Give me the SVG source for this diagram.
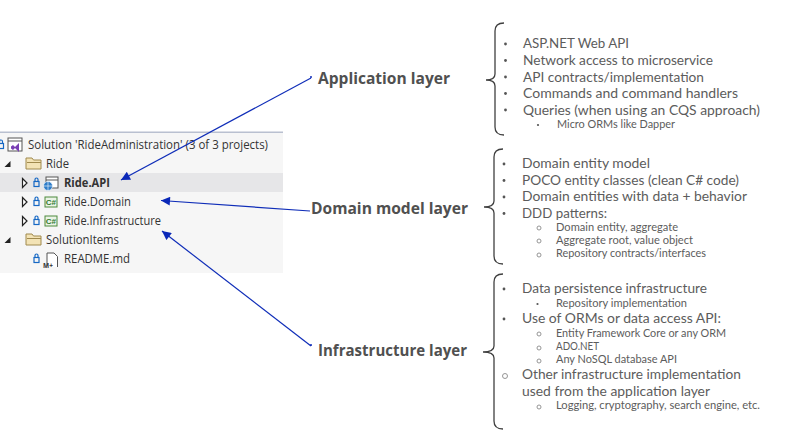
<svg xmlns="http://www.w3.org/2000/svg" width="806" height="437" viewBox="0 0 806 437">
<style>
text{font-family:"Open Sans","Noto Sans","Liberation Sans",sans-serif}
.t{font-size:12px;fill:#333}
.h{font-size:16px;font-weight:700;fill:#505050}
.l{font-family:Lato,"Open Sans",sans-serif;font-size:13.7px;fill:#5c5c5c}
.s{font-family:Lato,"Open Sans",sans-serif;font-size:10.8px;fill:#5c5c5c}
.d{fill:#555}
.o{fill:none;stroke:#8a8a8a;stroke-width:.9}
.br{fill:none;stroke:#404040;stroke-width:1.3}
.cn{fill:none;stroke:#0f2db8;stroke-width:1.2}
.folder{fill:#f3e3b5;stroke:#a08a4e;stroke-width:1}
.lock{fill:none;stroke:#1668c4;stroke-width:1.2}
.exp{fill:#fff;stroke:#222;stroke-width:1.2}
.cs{fill:#eaf3e6;stroke:#4c8a3c;stroke-width:1}
.cst{font-family:"Liberation Sans",sans-serif;font-size:8px;font-weight:700;fill:#2f7a2f}
</style>
<defs>
<marker id="ah" viewBox="0 0 10 10" refX="10" refY="5" markerWidth="11" markerHeight="9" markerUnits="userSpaceOnUse" orient="auto"><path d="M0 0L10 5L0 10Z" fill="#0a28b8"/></marker>
<g id="lk"><rect class="lock" x="-2.500" y="-.5" width="5" height="5"/><path class="lock" d="M-1.500-.5v-2a1.500 1.500 0 0 1 3 0v2"/></g>
<g id="fd"><path class="folder" d="M0 0h6l1.500 2H15v9H0Z"/><path d="M1 4.500H15" stroke="#a08a4e" fill="none"/></g>
<g id="cs"><rect class="cs" x="0" y="0" width="12" height="10"/><text class="cst" x=".8" y="8">C#</text></g>
</defs>

<g id="solution-panel">
<rect x="0" y="132" width="283" height="141" fill="#f6f6f6"/>
<rect x="0" y="131.500" width="283" height="1.500" fill="#b9c0d0"/>
<rect x="0" y="173" width="283" height="19" fill="#e6e6e8"/>
</g>

<g id="tree-solution">
<use href="#lk" x="1" y="144"/>
<rect x="8" y="138" width="14" height="13" fill="#fff" stroke="#555"/><path d="M8 141H22" stroke="#555"/>
<path d="M13 145l2 2 4-4v9l-4-4-2 2-2-1.500v-2Z" fill="#7a3fb5"/>
<text class="t" x="28" y="149" textLength="240" lengthAdjust="spacingAndGlyphs">Solution 'RideAdministration' (3 of 3 projects)</text>
</g>
<g id="tree-ride">
<path d="M4.500 167h6v-6Z" fill="#222"/>
<use href="#fd" x="26" y="158"/>
<text class="t" x="46" y="168" textLength="23" lengthAdjust="spacingAndGlyphs">Ride</text>
</g>
<g id="tree-api">
<path class="exp" d="M22.500 178.500l4.500 4.500-4.500 4.500Z"/>
<use href="#lk" x="36.500" y="182"/>
<rect x="46" y="177" width="12" height="11" fill="#fff" stroke="#555"/><path d="M46 180H58" stroke="#555"/>
<circle cx="48" cy="186" r="4.500" fill="#2e7cc8" stroke="#fff" stroke-width=".6"/>
<path d="M43.500 186h9M48 181.500v9" stroke="#fff" stroke-width=".6"/>
<text class="t" style="font-weight:700" x="64" y="187" textLength="46" lengthAdjust="spacingAndGlyphs">Ride.API</text>
</g>
<g id="tree-domain">
<path class="exp" d="M22.500 197.500l4.500 4.500-4.500 4.500Z"/>
<use href="#lk" x="36.500" y="201"/>
<use href="#cs" x="45" y="197"/>
<text class="t" x="64" y="206" textLength="67" lengthAdjust="spacingAndGlyphs">Ride.Domain</text>
</g>
<g id="tree-infrastructure">
<path class="exp" d="M22.500 216.500l4.500 4.500-4.500 4.500Z"/>
<use href="#lk" x="36.500" y="220"/>
<use href="#cs" x="45" y="216"/>
<text class="t" x="64" y="225" textLength="97" lengthAdjust="spacingAndGlyphs">Ride.Infrastructure</text>
</g>
<g id="tree-solutionitems">
<path d="M4.500 243h6v-6Z" fill="#222"/>
<use href="#fd" x="26" y="234"/>
<text class="t" x="46" y="244" textLength="73" lengthAdjust="spacingAndGlyphs">SolutionItems</text>
</g>
<g id="tree-readme">
<use href="#lk" x="36.500" y="258"/>
<path d="M47 266v-13h7l3.500 3.500V267" fill="#fff" stroke="#555"/>
<text x="43" y="268" style="font-size:6.500px;font-weight:700;fill:#333">M+</text>
<text class="t" x="64" y="263" textLength="66" lengthAdjust="spacingAndGlyphs">README.md</text>
</g>

<g id="connectors">
<path class="cn" d="M311 78L121 180" marker-end="url(#ah)"/>
<path class="cn" d="M310 211L161 200.500" marker-end="url(#ah)"/>
<path class="cn" d="M311 346L162 231" marker-end="url(#ah)"/>
</g>

<g id="application-layer">
<circle cx="311" cy="77" r="1" fill="#0f2db8"/>
<text class="h" x="318" y="84" textLength="132" lengthAdjust="spacingAndGlyphs">Application layer</text>
<path class="br" d="M486 80C491 80 495 79 495 74V31C495 26 498 23 504 23M486 80C491 80 495 81 495 86V127C495 132 498 135 504 135"/>
<circle class="d" cx="505.500" cy="44" r="1.400"/><text class="l" x="523" y="48" textLength="106" lengthAdjust="spacingAndGlyphs">ASP.NET Web API</text>
<circle class="d" cx="505.500" cy="60.500" r="1.400"/><text class="l" x="523" y="65" textLength="190" lengthAdjust="spacingAndGlyphs">Network access to microservice</text>
<circle class="d" cx="505.500" cy="77" r="1.400"/><text class="l" x="523" y="81.500" textLength="181" lengthAdjust="spacingAndGlyphs">API contracts/implementation</text>
<circle class="d" cx="505.500" cy="93.500" r="1.400"/><text class="l" x="523" y="98" textLength="215" lengthAdjust="spacingAndGlyphs">Commands and command handlers</text>
<circle class="d" cx="505.500" cy="110" r="1.400"/><text class="l" x="523" y="114.500" textLength="237" lengthAdjust="spacingAndGlyphs">Queries (when using an CQS approach)</text>
<circle class="d" cx="538" cy="125" r="1.100"/><text class="s" x="557" y="128" textLength="118" lengthAdjust="spacingAndGlyphs">Micro ORMs like Dapper</text>
</g>

<g id="domain-model-layer">
<text class="h" x="311" y="214" textLength="157" lengthAdjust="spacingAndGlyphs">Domain model layer</text>
<path class="br" d="M484 207C489 207 494 206 494 201V157C494 152 497 149 503 149M484 207C489 207 494 208 494 213V256C494 261 497 264 503 264"/>
<circle class="d" cx="504" cy="164" r="1.400"/><text class="l" x="522" y="168" textLength="128" lengthAdjust="spacingAndGlyphs">Domain entity model</text>
<circle class="d" cx="504" cy="180.500" r="1.400"/><text class="l" x="522" y="184.500" textLength="217" lengthAdjust="spacingAndGlyphs">POCO entity classes (clean C# code)</text>
<circle class="d" cx="504" cy="197" r="1.400"/><text class="l" x="522" y="201" textLength="225" lengthAdjust="spacingAndGlyphs">Domain entities with data + behavior</text>
<circle class="d" cx="504" cy="213.500" r="1.400"/><text class="l" x="522" y="217.500" textLength="85" lengthAdjust="spacingAndGlyphs">DDD patterns:</text>
<circle class="o" cx="539" cy="228" r="2"/><text class="s" x="556" y="231" textLength="122" lengthAdjust="spacingAndGlyphs">Domain entity, aggregate</text>
<circle class="o" cx="539" cy="241" r="2"/><text class="s" x="556" y="244" textLength="137" lengthAdjust="spacingAndGlyphs">Aggregate root, value object</text>
<circle class="o" cx="539" cy="255" r="2"/><text class="s" x="556" y="257" textLength="150" lengthAdjust="spacingAndGlyphs">Repository contracts/interfaces</text>
</g>

<g id="infrastructure-layer">
<circle cx="311" cy="345" r="1" fill="#0f2db8"/>
<text class="h" x="318" y="356" textLength="149" lengthAdjust="spacingAndGlyphs">Infrastructure layer</text>
<path class="br" d="M483 352C489 352 494 351 494 346V282C494 277 497 274 503 274M483 352C489 352 494 353 494 358V421C494 426 497 429 503 429"/>
<circle class="d" cx="504" cy="289" r="1.400"/><text class="l" x="522" y="293" textLength="185" lengthAdjust="spacingAndGlyphs">Data persistence infrastructure</text>
<circle class="d" cx="537.500" cy="304" r="1.100"/><text class="s" x="556" y="307" textLength="131" lengthAdjust="spacingAndGlyphs">Repository implementation</text>
<circle class="d" cx="504" cy="319" r="1.400"/><text class="l" x="522" y="323" textLength="199" lengthAdjust="spacingAndGlyphs">Use of ORMs or data access API:</text>
<circle class="o" cx="539" cy="334" r="2"/><text class="s" x="556" y="337" textLength="170" lengthAdjust="spacingAndGlyphs">Entity Framework Core or any ORM</text>
<circle class="o" cx="539" cy="348" r="2"/><text class="s" x="556" y="350" textLength="43" lengthAdjust="spacingAndGlyphs">ADO.NET</text>
<circle class="o" cx="539" cy="361" r="2"/><text class="s" x="556" y="363" textLength="121" lengthAdjust="spacingAndGlyphs">Any NoSQL database API</text>
<circle class="o" cx="505" cy="376" r="2.500"/><text class="l" x="522" y="379" textLength="219" lengthAdjust="spacingAndGlyphs">Other infrastructure implementation</text>
<text class="l" x="522" y="396" textLength="188" lengthAdjust="spacingAndGlyphs">used from the application layer</text>
<circle class="o" cx="539" cy="407" r="2"/><text class="s" x="556" y="409" textLength="204" lengthAdjust="spacingAndGlyphs">Logging, cryptography, search engine, etc.</text>
</g>
</svg>
